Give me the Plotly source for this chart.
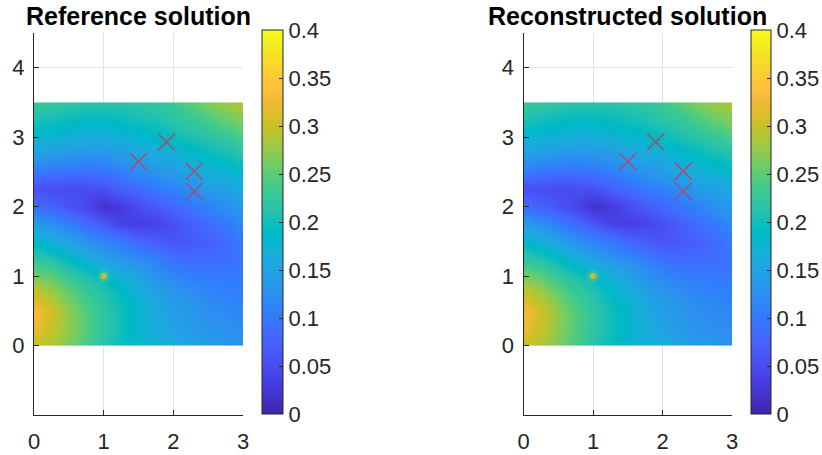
import plotly.graph_objects as go

# Grid nodes of the solution field (x across, y up)
x_nodes = [0.0, 0.25, 0.5, 0.75, 1.0, 1.25, 1.5, 1.75, 2.0, 2.25, 2.5, 2.75, 3.0]
y_nodes = [0.0, 0.25, 0.5, 0.75, 1.0, 1.25, 1.5, 1.75, 2.0, 2.25, 2.5, 2.75, 3.0, 3.25, 3.5]

# Reference solution, one row per y node (bottom to top)
z_reference = [
    [0.300, 0.290, 0.265, 0.240, 0.215, 0.195, 0.180, 0.170, 0.160, 0.150, 0.140, 0.135, 0.130],
    [0.320, 0.300, 0.272, 0.245, 0.220, 0.200, 0.180, 0.165, 0.150, 0.140, 0.130, 0.125, 0.120],
    [0.328, 0.305, 0.272, 0.245, 0.220, 0.200, 0.180, 0.160, 0.145, 0.135, 0.125, 0.120, 0.115],
    [0.300, 0.282, 0.255, 0.230, 0.210, 0.190, 0.170, 0.150, 0.135, 0.125, 0.115, 0.110, 0.105],
    [0.260, 0.250, 0.225, 0.205, 0.190, 0.170, 0.150, 0.130, 0.115, 0.105, 0.100, 0.100, 0.098],
    [0.220, 0.210, 0.190, 0.170, 0.150, 0.135, 0.120, 0.105, 0.090, 0.085, 0.085, 0.088, 0.092],
    [0.185, 0.170, 0.150, 0.130, 0.110, 0.100, 0.080, 0.070, 0.060, 0.065, 0.072, 0.085, 0.098],
    [0.140, 0.125, 0.105, 0.085, 0.065, 0.040, 0.035, 0.040, 0.055, 0.070, 0.085, 0.100, 0.115],
    [0.085, 0.075, 0.060, 0.045, 0.020, 0.030, 0.050, 0.065, 0.080, 0.095, 0.110, 0.125, 0.135],
    [0.055, 0.050, 0.050, 0.050, 0.055, 0.070, 0.085, 0.100, 0.110, 0.125, 0.140, 0.150, 0.160],
    [0.100, 0.095, 0.090, 0.090, 0.095, 0.105, 0.120, 0.130, 0.140, 0.155, 0.165, 0.175, 0.185],
    [0.145, 0.140, 0.135, 0.130, 0.130, 0.140, 0.150, 0.160, 0.170, 0.180, 0.190, 0.200, 0.210],
    [0.180, 0.175, 0.170, 0.165, 0.165, 0.170, 0.180, 0.185, 0.195, 0.205, 0.215, 0.225, 0.240],
    [0.205, 0.200, 0.195, 0.190, 0.190, 0.195, 0.200, 0.205, 0.215, 0.225, 0.240, 0.255, 0.265],
    [0.225, 0.220, 0.215, 0.210, 0.210, 0.210, 0.215, 0.220, 0.230, 0.245, 0.262, 0.275, 0.285],
]

# Reconstructed solution agrees with the reference on this grid
z_reconstructed = [row[:] for row in z_reference]

# Point source and its peak value
source_x = [1.0]
source_y = [1.0]
source_value = [0.32]

# Measurement locations
sensor_x = [1.5, 1.9, 2.3, 2.3]
sensor_y = [2.65, 2.93, 2.51, 2.22]

color_ticks = [0, 0.05, 0.1, 0.15, 0.2, 0.25, 0.3, 0.35, 0.4]
color_tick_text = ["0", "0.05", "0.1", "0.15", "0.2", "0.25", "0.3", "0.35", "0.4"]
x_ticks = [0, 1, 2, 3]
y_ticks = [0, 1, 2, 3, 4]

panel_titles = ["Reference solution", "Reconstructed solution"]

# MATLAB parula colormap (64 entries)
PARULA = [
    (0.2422, 0.1504, 0.6603), (0.2504, 0.1650, 0.7076), (0.2578, 0.1818, 0.7511), (0.2647, 0.1978, 0.7952),
    (0.2706, 0.2147, 0.8364), (0.2751, 0.2342, 0.8710), (0.2783, 0.2559, 0.8991), (0.2803, 0.2782, 0.9221),
    (0.2813, 0.3006, 0.9414), (0.2810, 0.3228, 0.9579), (0.2795, 0.3447, 0.9717), (0.2760, 0.3667, 0.9829),
    (0.2699, 0.3892, 0.9906), (0.2602, 0.4123, 0.9952), (0.2440, 0.4358, 0.9988), (0.2206, 0.4603, 0.9973),
    (0.1963, 0.4847, 0.9892), (0.1834, 0.5074, 0.9798), (0.1786, 0.5289, 0.9682), (0.1764, 0.5499, 0.9520),
    (0.1687, 0.5703, 0.9359), (0.1540, 0.5902, 0.9218), (0.1460, 0.6091, 0.9079), (0.1380, 0.6276, 0.8973),
    (0.1248, 0.6459, 0.8883), (0.1113, 0.6635, 0.8763), (0.0952, 0.6798, 0.8598), (0.0689, 0.6948, 0.8394),
    (0.0297, 0.7082, 0.8163), (0.0036, 0.7199, 0.7913), (0.0067, 0.7300, 0.7654), (0.0433, 0.7394, 0.7393),
    (0.0964, 0.7500, 0.7120), (0.1408, 0.7584, 0.6842), (0.1717, 0.7670, 0.6554), (0.1938, 0.7758, 0.6251),
    (0.2161, 0.7843, 0.5923), (0.2470, 0.7918, 0.5567), (0.2906, 0.7973, 0.5188), (0.3406, 0.8008, 0.4789),
    (0.3909, 0.8029, 0.4354), (0.4456, 0.8024, 0.3909), (0.5044, 0.7993, 0.3480), (0.5616, 0.7942, 0.3045),
    (0.6174, 0.7876, 0.2612), (0.6720, 0.7793, 0.2227), (0.7242, 0.7698, 0.1910), (0.7738, 0.7598, 0.1646),
    (0.8203, 0.7498, 0.1535), (0.8634, 0.7406, 0.1596), (0.9035, 0.7330, 0.1774), (0.9393, 0.7288, 0.2100),
    (0.9728, 0.7298, 0.2394), (0.9956, 0.7434, 0.2371), (0.9970, 0.7659, 0.2199), (0.9952, 0.7893, 0.2028),
    (0.9892, 0.8136, 0.1885), (0.9786, 0.8386, 0.1766), (0.9676, 0.8639, 0.1643), (0.9610, 0.8890, 0.1537),
    (0.9597, 0.9135, 0.1423), (0.9628, 0.9373, 0.1265), (0.9691, 0.9606, 0.1064), (0.9769, 0.9839, 0.0805),
]
parula_scale = [
    [i / (len(PARULA) - 1), "rgb({:.0f},{:.0f},{:.0f})".format(r * 255, g * 255, b * 255)]
    for i, (r, g, b) in enumerate(PARULA)
]


def cell_edges(nodes):
    # Edges halfway between nodes, clipped to the first and last node
    mids = [(a + b) / 2 for a, b in zip(nodes[:-1], nodes[1:])]
    return [nodes[0]] + mids + [nodes[-1]]


W, H = 822, 455
FONT = "Liberation Sans, Arial, Helvetica, sans-serif"
TEXT = "#262626"
TICK_SIZE = 22

x_edges = cell_edges(x_nodes)
y_edges = cell_edges(y_nodes)

# Pixel geometry of each panel: (left, right) of the axes, (left) of the colour bar
panels = [
    dict(ax_left=34, ax_right=243, cb_left=261.5, cb_w=21),
    dict(ax_left=523.5, ax_right=732, cb_left=750.5, cb_w=20),
]
ax_top, ax_bottom = 33, 415
cb_top, cb_bottom = 30.5, 414

fig = go.Figure()
layout = dict(
    width=W, height=H,
    margin=dict(l=0, r=0, t=0, b=0, autoexpand=False),
    paper_bgcolor="white", plot_bgcolor="white",
    showlegend=False,
    font=dict(family=FONT, color=TEXT, size=TICK_SIZE),
    annotations=[],
)

fields = [z_reference, z_reconstructed]
for k, (p, z, title) in enumerate(zip(panels, fields, panel_titles)):
    sfx = "" if k == 0 else str(k + 1)
    xa, ya, ca = "x" + sfx, "y" + sfx, "coloraxis" + sfx

    fig.add_trace(go.Heatmap(
        x=x_edges, y=y_edges, z=z, zsmooth="best",
        coloraxis=ca, xaxis=xa, yaxis=ya, hoverinfo="skip",
    ))
    # soft glow of the point source, then its core
    fig.add_trace(go.Scatter(
        x=source_x, y=source_y, mode="markers", xaxis=xa, yaxis=ya,
        marker=dict(size=12, color=[v - 0.04 for v in source_value], coloraxis=ca,
                    opacity=0.3, line=dict(width=0)),
        hoverinfo="skip",
    ))
    fig.add_trace(go.Scatter(
        x=source_x, y=source_y, mode="markers", xaxis=xa, yaxis=ya,
        marker=dict(size=6, color=source_value, coloraxis=ca,
                    opacity=0.8, line=dict(width=0)),
        hoverinfo="skip",
    ))
    fig.add_trace(go.Scatter(
        x=sensor_x, y=sensor_y, mode="markers", xaxis=xa, yaxis=ya,
        marker=dict(symbol="x-thin-open", size=17, color="rgba(210,50,75,0.85)",
                    line=dict(width=1.2, color="rgba(210,50,75,0.85)")),
        hoverinfo="skip",
    ))

    axis_common = dict(
        showgrid=True, gridcolor="#e3e3e3", gridwidth=1, automargin=False,
        zeroline=False, showline=True, linecolor=TEXT, linewidth=1,
        ticks="inside", ticklen=5, tickcolor=TEXT, tickwidth=1,
        tickfont=dict(family=FONT, size=TICK_SIZE, color=TEXT), mirror=False,
    )
    layout["xaxis" + sfx] = dict(
        axis_common, domain=[p["ax_left"] / W, p["ax_right"] / W],
        range=[0, 3], tickvals=x_ticks, anchor=ya, ticklabelstandoff=7,
    )
    layout["yaxis" + sfx] = dict(
        axis_common, domain=[1 - ax_bottom / H, 1 - ax_top / H],
        range=[-1, 4.5], tickvals=y_ticks, anchor=xa, ticklabelstandoff=4,
    )
    layout[ca] = dict(
        cmin=0, cmax=0.4, colorscale=parula_scale,
        colorbar=dict(
            x=p["cb_left"] / W, xanchor="left", xpad=0,
            y=1 - cb_bottom / H, yanchor="bottom", ypad=0,
            len=(cb_bottom - cb_top) / H, lenmode="fraction",
            thickness=p["cb_w"], thicknessmode="pixels",
            outlinewidth=1, outlinecolor=TEXT,
            tickvals=color_ticks, ticktext=color_tick_text,
            ticks="inside", ticklen=4, tickcolor=TEXT,
            tickfont=dict(family=FONT, size=TICK_SIZE, color=TEXT),
        ),
    )
    layout["annotations"].append(dict(
        text="<b>" + title + "</b>", xref="paper", yref="paper",
        x=(p["ax_left"] + p["ax_right"]) / 2 / W, y=1 - 16 / H,
        xanchor="center", yanchor="middle", showarrow=False,
        font=dict(family=FONT, size=25, color="black"),
    ))

fig.update_layout(**layout)
fig.write_html("out.html")
